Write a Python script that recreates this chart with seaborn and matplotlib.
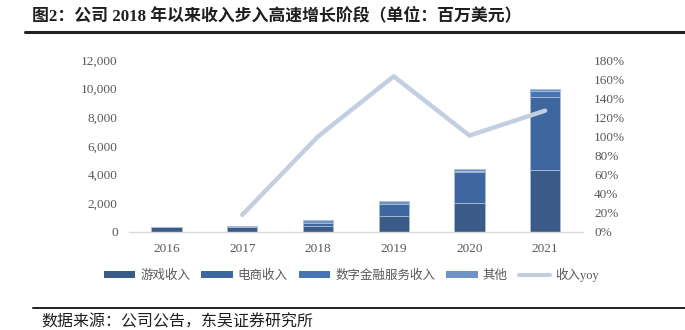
import matplotlib
matplotlib.use("Agg")
import matplotlib.pyplot as plt
from matplotlib.patches import Patch
from matplotlib.lines import Line2D
import seaborn as sns
import pandas as pd
import numpy as np

# Revenue by segment (USD million) and total revenue growth
years = ["2016", "2017", "2018", "2019", "2020", "2021"]
game_rev = [316, 330, 415, 1136, 2016, 4320]
ecom_rev = [10, 40, 240, 830, 2167, 5123]
fin_rev = [0, 0, 0, 20, 62, 425]
other_rev = [25, 44, 172, 189, 131, 87]
yoy_years = ["2017", "2018", "2019", "2020", "2021"]
yoy = [18, 100, 163, 101, 127]

series_names = ["游戏收入", "电商收入", "数字金融服务收入", "其他"]
series_vals = [game_rev, ecom_rev, fin_rev, other_rev]
colors = ["#3a5b88", "#3f679f", "#4774b4", "#6f92c5"]
line_color = "#c3cfe1"
text_color = "#595959"

sns.set_theme(style="white")
plt.rcParams["font.family"] = ["Liberation Serif", "Noto Sans CJK SC"]
plt.rcParams["axes.unicode_minus"] = False

fig = plt.figure(figsize=(6.85, 3.30), dpi=100)
ax = fig.add_axes([0.188, 0.297, 0.663, 0.521])

bottom = np.zeros(len(years))
for name, vals, col in zip(series_names, series_vals, colors):
    df = pd.DataFrame({"year": years, "value": vals})
    sns.barplot(data=df, x="year", y="value", color=col, width=0.4,
                bottom=bottom, ax=ax, linewidth=0.6, edgecolor="#a9bcd8",
                saturation=1)
    bottom = bottom + np.array(vals)

ax.set_ylim(0, 12000)
ax.set_xlim(-0.5, len(years) - 0.5)
ax.set_yticks(np.arange(0, 12001, 2000))
ax.set_yticklabels([f"{v:,}" for v in range(0, 12001, 2000)])
ax.set_xlabel("")
ax.set_ylabel("")
for s in ["top", "left", "right"]:
    ax.spines[s].set_visible(False)
ax.spines["bottom"].set_color("#d9d9d9")
ax.spines["bottom"].set_linewidth(1.0)
ax.tick_params(axis="both", length=0, labelsize=9.5, colors=text_color, pad=8)

ax2 = ax.twinx()
ax2.set_xlim(ax.get_xlim())
line_df = pd.DataFrame({"pos": [years.index(y) for y in yoy_years], "yoy": yoy})
sns.lineplot(data=line_df, x="pos", y="yoy", color=line_color, linewidth=3.2,
             ax=ax2)
ax2.set_ylim(0, 180)
ax2.set_yticks(np.arange(0, 181, 20))
ax2.set_yticklabels([f"{v}%" for v in range(0, 181, 20)])
ax2.set_xlabel("")
ax2.set_ylabel("")
for s in ["top", "left", "right", "bottom"]:
    ax2.spines[s].set_visible(False)
ax2.tick_params(axis="y", length=0, labelsize=9.5, colors=text_color, pad=8)

handles = [Patch(facecolor=c, edgecolor="none") for c in colors]
handles.append(Line2D([0], [0], color=line_color, linewidth=3))
labels = series_names + ["收入yoy"]
fig.legend(handles, labels, loc="center", bbox_to_anchor=(0.513, 0.168),
           ncol=5, frameon=False, fontsize=9, handlelength=2.5,
           handleheight=0.5, handletextpad=0.4, columnspacing=0.9,
           labelcolor=text_color)

# Title and rules
fig.text(0.047, 0.953, "图2：公司 2018 年以来收入步入高速增长阶段（单位：百万美元）",
         fontsize=12.2, fontweight="bold", color="#1f1f1f", va="center",
         ha="left")
fig.add_artist(Line2D([0.037, 1.0], [0.903, 0.903], color="#222222",
                      linewidth=2.2, transform=fig.transFigure))
fig.add_artist(Line2D([0.048, 1.0], [0.067, 0.067], color="#222222",
                      linewidth=1.4, transform=fig.transFigure))
fig.text(0.061, 0.022, "数据来源：公司公告，东吴证券研究所", fontsize=11.5,
         color="#1f1f1f", va="center", ha="left")

fig.savefig("out.png", dpi=100)
